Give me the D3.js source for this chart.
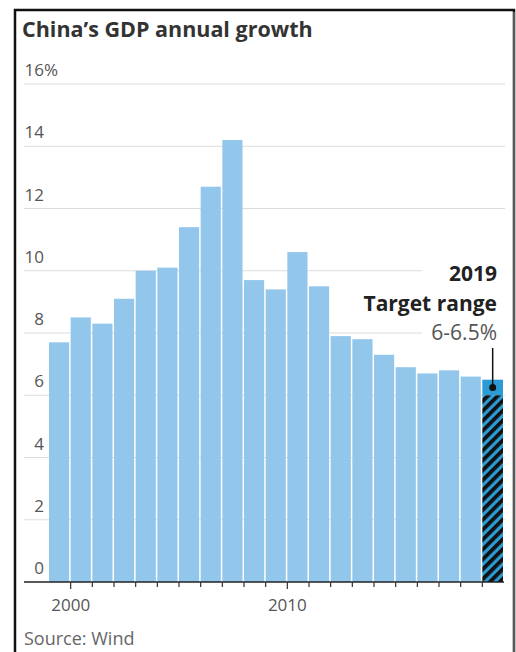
<!DOCTYPE html>
<html>
<head>
<meta charset="utf-8">
<script src="https://cdn.jsdelivr.net/npm/d3@7"></script>
<style>
  body { margin: 0; background: #fff; }
  svg { display: block; }
</style>
</head>
<body>
<div id="viz"></div>
<script>
// data
const years = [1999, 2000, 2001, 2002, 2003, 2004, 2005, 2006, 2007, 2008,
  2009, 2010, 2011, 2012, 2013, 2014, 2015, 2016, 2017, 2018];
const growth = [7.7, 8.5, 8.3, 9.1, 10.0, 10.1, 11.4, 12.7, 14.2, 9.7,
  9.4, 10.6, 9.5, 7.9, 7.8, 7.3, 6.9, 6.7, 6.8, 6.6];
const targetYear = 2019;
const targetRange = [6, 6.5];
const yTicks = [0, 2, 4, 6, 8, 10, 12, 14, 16];
const xLabels = [2000, 2010];

const W = 516, H = 652;
const font = "'Open Sans', sans-serif";

const svg = d3.select('#viz').append('svg')
  .attr('width', W)
  .attr('height', H);

// hatch for the target bar
const defs = svg.append('defs');
const pat = defs.append('pattern')
  .attr('id', 'hatch')
  .attr('patternUnits', 'userSpaceOnUse')
  .attr('width', 7)
  .attr('height', 7)
  .attr('patternTransform', 'rotate(45)');
pat.append('rect').attr('width', 7).attr('height', 7).attr('fill', '#2b9bd6');
pat.append('rect').attr('width', 3.8).attr('height', 7).attr('fill', '#111');

// frame
svg.append('path')
  .attr('d', `M15,${H + 5} V10 H514 V${H + 5}`)
  .attr('fill', 'none')
  .attr('stroke', '#111')
  .attr('stroke-width', 2.5);
svg.append('line')
  .attr('x1', 514).attr('x2', 514).attr('y1', 12).attr('y2', H)
  .attr('stroke', '#888').attr('stroke-width', 1.2);

svg.append('text')
  .attr('x', 22).attr('y', 37)
  .attr('font-family', font).attr('font-weight', 700).attr('font-size', 21.5)
  .attr('fill', '#333')
  .text('China’s GDP annual growth');

const allYears = years.concat([targetYear]);
const x = d3.scaleBand()
  .domain(allYears)
  .range([49, 504])
  .padding(0);

const y = d3.scaleLinear()
  .domain([0, 16])
  .range([582, 84]);

// gridlines
svg.append('g')
  .selectAll('line')
  .data(yTicks.filter(d => d > 0))
  .join('line')
  .attr('x1', 24)
  .attr('x2', d => (d === 8 || d === 10) ? 422 : 505)
  .attr('y1', d => y(d))
  .attr('y2', d => y(d))
  .attr('stroke', '#dcdcdc')
  .attr('stroke-width', 1.2);

// y labels
const yl = svg.append('g')
  .attr('font-family', font).attr('font-size', 17).attr('fill', '#555');
yl.selectAll('text.num')
  .data(yTicks)
  .join('text')
  .attr('class', 'num')
  .attr('x', 44)
  .attr('y', d => y(d) - 8)
  .attr('text-anchor', 'end')
  .text(d => d);
yl.append('text')
  .attr('x', 44)
  .attr('y', y(16) - 8)
  .text('%');

// bars
svg.append('g')
  .selectAll('rect')
  .data(years.map((yr, i) => ({ yr, v: growth[i] })))
  .join('rect')
  .attr('x', d => x(d.yr))
  .attr('width', x.bandwidth() - 1.5)
  .attr('y', d => y(d.v))
  .attr('height', d => y(0) - y(d.v))
  .attr('fill', '#92c6ea');

// target bar: solid top, hatched below
const tx = x(targetYear);
const tw = x.bandwidth() - 1;
svg.append('rect')
  .attr('x', tx).attr('width', tw)
  .attr('y', y(targetRange[1]))
  .attr('height', y(targetRange[0]) - y(targetRange[1]))
  .attr('fill', '#2b9bd6');
svg.append('rect')
  .attr('x', tx).attr('width', tw)
  .attr('y', y(targetRange[0]))
  .attr('height', y(0) - y(targetRange[0]))
  .attr('fill', 'url(#hatch)');

// x axis
svg.append('line')
  .attr('x1', 24).attr('x2', 504)
  .attr('y1', y(0)).attr('y2', y(0))
  .attr('stroke', '#222').attr('stroke-width', 1.5);
svg.append('g')
  .selectAll('line')
  .data(allYears.slice(1))
  .join('line')
  .attr('x1', d => x(d)).attr('x2', d => x(d))
  .attr('y1', y(0))
  .attr('y2', d => y(0) + (xLabels.includes(d) ? 7 : 5))
  .attr('stroke', '#333').attr('stroke-width', 1.2);
svg.append('g')
  .selectAll('text')
  .data(xLabels)
  .join('text')
  .attr('x', d => x(d))
  .attr('y', 611)
  .attr('text-anchor', 'middle')
  .attr('font-family', font).attr('font-size', 17).attr('fill', '#555')
  .text(d => d);

// annotation
const ax = tx + tw / 2;
const dotY = y(d3.mean(targetRange));
svg.append('line')
  .attr('x1', ax).attr('x2', ax)
  .attr('y1', 348).attr('y2', dotY)
  .attr('stroke', '#111').attr('stroke-width', 1.5);
svg.append('circle')
  .attr('cx', ax).attr('cy', dotY).attr('r', 3.5)
  .attr('fill', '#111');
const ann = svg.append('g')
  .attr('font-family', font).attr('font-size', 21)
  .attr('text-anchor', 'end');
ann.append('text').attr('x', 497).attr('y', 281)
  .attr('font-weight', 700).attr('fill', '#222').text(targetYear);
ann.append('text').attr('x', 497).attr('y', 311)
  .attr('font-weight', 700).attr('fill', '#222').text('Target range');
ann.append('text').attr('x', 497).attr('y', 340)
  .attr('fill', '#555').text(`${targetRange[0]}-${targetRange[1]}%`);

svg.append('text')
  .attr('x', 24).attr('y', 645)
  .attr('font-family', font).attr('font-size', 18).attr('fill', '#666')
  .text('Source: Wind');
</script>
</body>
</html>
